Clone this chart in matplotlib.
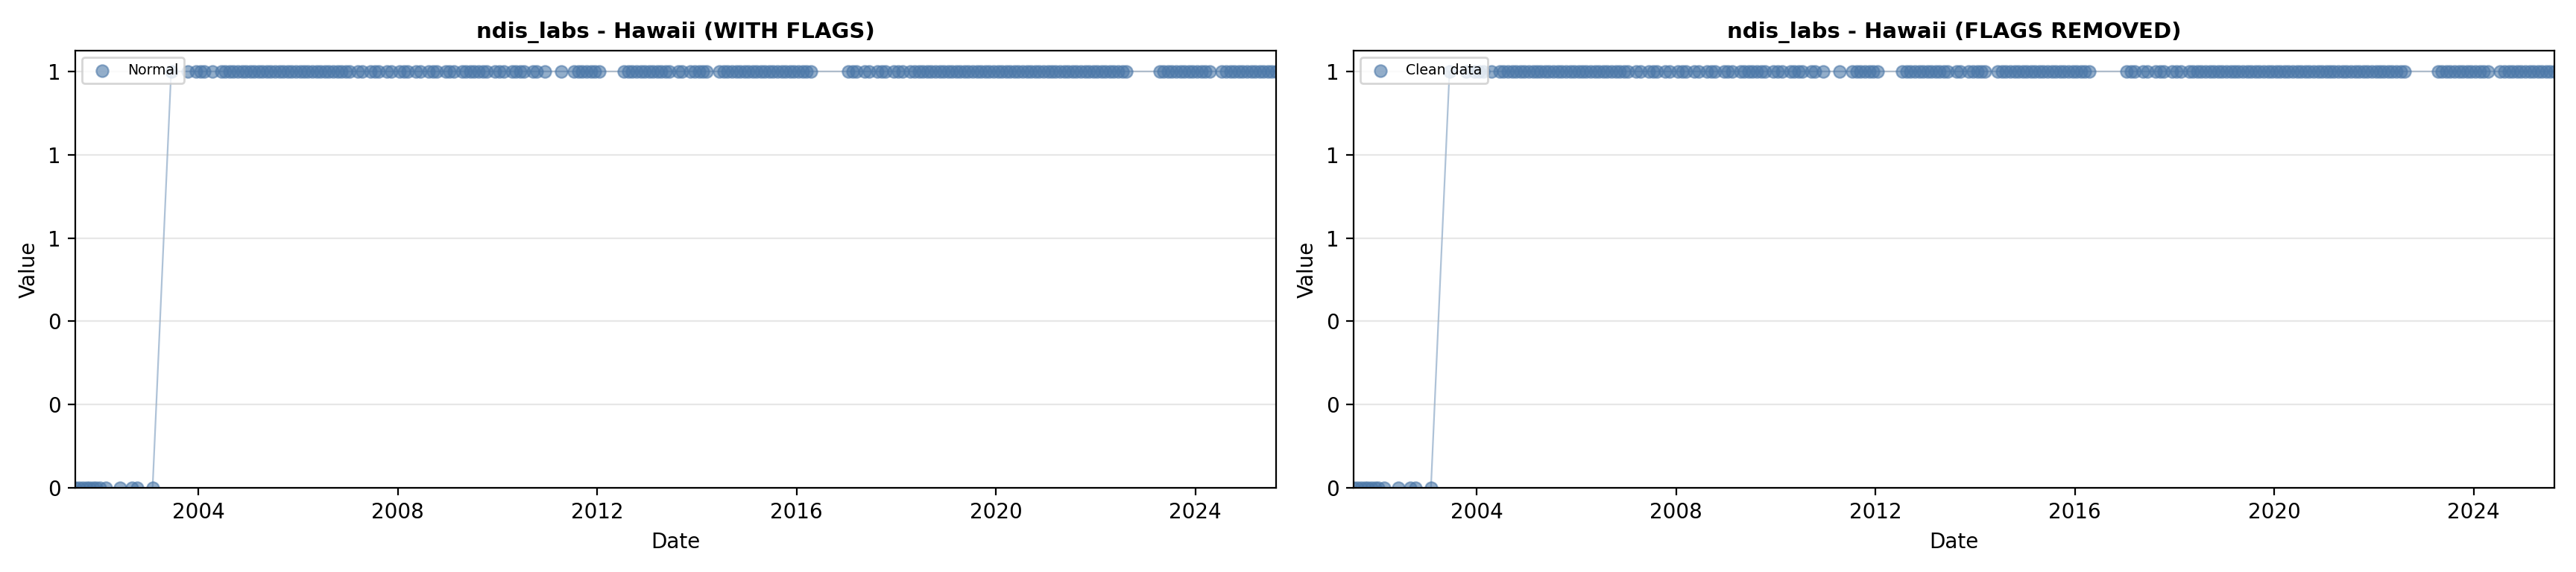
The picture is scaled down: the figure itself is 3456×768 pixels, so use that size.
import pandas as pd
import matplotlib
matplotlib.use("Agg")
import matplotlib.pyplot as plt
from matplotlib.ticker import StrMethodFormatter

# samples with value 0 (early period)
zero_dates = [
    "2001-07-12", "2001-08-10", "2001-09-05", "2001-10-01", "2001-10-25",
    "2001-11-20", "2001-12-15", "2002-01-10", "2002-02-20", "2002-06-05",
    "2002-09-01", "2002-10-08", "2003-01-30",
]

# months with a value of 1 (mid-month)
one_months = [
    "2003-06", "2003-10", "2003-12",
    "2004-01", "2004-02", "2004-04", "2004-06", "2004-07", "2004-08", "2004-09", "2004-10", "2004-11", "2004-12",
    "2005-01", "2005-02", "2005-03", "2005-04", "2005-05", "2005-06", "2005-07", "2005-08", "2005-09", "2005-10", "2005-11", "2005-12",
    "2006-01", "2006-02", "2006-03", "2006-04", "2006-05", "2006-06", "2006-07", "2006-08", "2006-09", "2006-10", "2006-11", "2006-12",
    "2007-01", "2007-03", "2007-04", "2007-06", "2007-07", "2007-08", "2007-10", "2007-11",
    "2008-01", "2008-02", "2008-03", "2008-05", "2008-06", "2008-08", "2008-09", "2008-10", "2008-12",
    "2009-01", "2009-02", "2009-04", "2009-05", "2009-06", "2009-07", "2009-08", "2009-09", "2009-10", "2009-12",
    "2010-01", "2010-02", "2010-04", "2010-05", "2010-06", "2010-07", "2010-09", "2010-10", "2010-12",
    "2011-04", "2011-07", "2011-08", "2011-09", "2011-10", "2011-11", "2011-12",
    "2012-01", "2012-07", "2012-08", "2012-09", "2012-10", "2012-11", "2012-12",
    "2013-01", "2013-02", "2013-03", "2013-04", "2013-05", "2013-06", "2013-08", "2013-09", "2013-11", "2013-12",
    "2014-01", "2014-02", "2014-03", "2014-06", "2014-07", "2014-08", "2014-09", "2014-10", "2014-11", "2014-12",
    "2015-01", "2015-02", "2015-03", "2015-04", "2015-05", "2015-06", "2015-07", "2015-08", "2015-09", "2015-10", "2015-11", "2015-12",
    "2016-01", "2016-02", "2016-03", "2016-04",
    "2017-01", "2017-02", "2017-03", "2017-05", "2017-06", "2017-08", "2017-09", "2017-10", "2017-12",
    "2018-01", "2018-02", "2018-04", "2018-05", "2018-06", "2018-07", "2018-08", "2018-09", "2018-10", "2018-11", "2018-12",
    "2019-01", "2019-02", "2019-03", "2019-04", "2019-05", "2019-06", "2019-07", "2019-08", "2019-09", "2019-10", "2019-11", "2019-12",
    "2020-01", "2020-02", "2020-03", "2020-04", "2020-05", "2020-06", "2020-07", "2020-08", "2020-09", "2020-10", "2020-11", "2020-12",
    "2021-01", "2021-02", "2021-03", "2021-04", "2021-05", "2021-06", "2021-07", "2021-08", "2021-09", "2021-10", "2021-11", "2021-12",
    "2022-01", "2022-02", "2022-03", "2022-04", "2022-05", "2022-06", "2022-07", "2022-08",
    "2023-04", "2023-05", "2023-06", "2023-07", "2023-08", "2023-09", "2023-10", "2023-11", "2023-12",
    "2024-01", "2024-02", "2024-03", "2024-04", "2024-07", "2024-08", "2024-09", "2024-10", "2024-11", "2024-12",
    "2025-01", "2025-02", "2025-03", "2025-04", "2025-05", "2025-06", "2025-07", "2025-08",
]

titles = ["ndis_labs - Hawaii (WITH FLAGS)", "ndis_labs - Hawaii (FLAGS REMOVED)"]
legend_labels = ["Normal", "Clean data"]

color = "#4C78A8"

d0 = pd.to_datetime(zero_dates)
d1 = pd.to_datetime(one_months, format="%Y-%m") + pd.Timedelta(days=14)
df = pd.DataFrame({
    "date": list(d0) + list(d1),
    "value": [0] * len(d0) + [1] * len(d1),
}).sort_values("date")

fig, axes = plt.subplots(1, 2, figsize=(17.28, 3.84), dpi=200)
fig.subplots_adjust(left=0.0292, right=0.9916, top=0.9115, bottom=0.1471, wspace=0.0646)

for ax, title, lab in zip(axes, titles, legend_labels):
    ax.plot(df["date"], df["value"], color=color, alpha=0.45, linewidth=0.8, zorder=1)
    ax.scatter(df["date"], df["value"], color=color, s=34, alpha=0.6, linewidths=0.8,
               label=lab, zorder=2)
    ax.set_xlim(df["date"].min(), df["date"].max())
    ax.set_ylim(0, 1.05)
    ax.yaxis.set_major_formatter(StrMethodFormatter("{x:.0f}"))
    ax.grid(True, axis="y", alpha=0.3)
    ax.set_title(title, fontsize=10.5, fontweight="bold")
    ax.set_xlabel("Date", fontsize=10)
    ax.set_ylabel("Value", fontsize=10)
    ax.tick_params(labelsize=10)
    ax.legend(loc="upper left", fontsize=6.8)

fig.savefig("out.png", dpi=200)
